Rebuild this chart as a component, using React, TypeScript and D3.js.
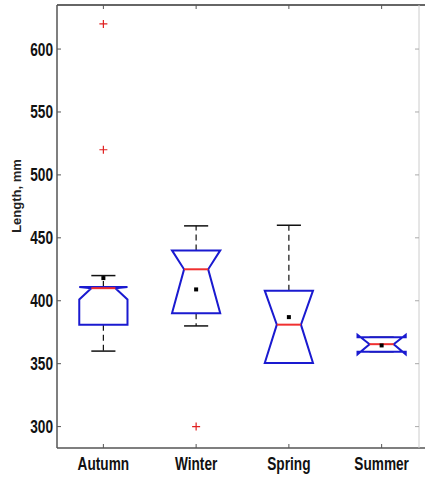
import React, { useRef, useEffect } from 'react';
import * as d3 from 'd3';

// box statistics per season (mm)
const seasons = ['Autumn', 'Winter', 'Spring', 'Summer'];
const lowerWhisker = [360, 380, 350.5, 359.5];
const lowerQuartile = [381, 390, 350.5, 359.5];
const medianValues = [410, 425, 381, 365.5];
const upperQuartile = [411, 440, 408, 371];
const upperWhisker = [420, 459.5, 460, 371];
const notchLow = [401, 390, 350.5, 357.5];
const notchHigh = [411, 440, 408, 373];
const meanValues = [418, 409, 387, 364.5];
const outlierValues = [[620, 520], [300], [], []];
const yTicks = [300, 350, 400, 450, 500, 550, 600];

const svgWidth = 425;
const svgHeight = 477;
const frame = { left: 57, right: 419, top: 5, bottom: 448 };
const font = 'Arial, "Liberation Sans", Helvetica, sans-serif';

const BoxPlot = () => {
  const svgRef = useRef(null);

  useEffect(() => {
    const svg = d3.select(svgRef.current);
    svg.selectAll('*').remove();

    const xScale = d3.scaleBand().domain(seasons).range([frame.left, 428]).padding(0);
    const yScale = d3.scaleLinear().domain([283, 635]).range([frame.bottom, frame.top]);
    const step = xScale.step();
    const boxW = step * 0.52;
    const cx = (s: string) => (xScale(s) as number) + xScale.bandwidth() / 2;

    svg.append('rect').attr('width', svgWidth).attr('height', svgHeight).attr('fill', '#fff');

    // frame
    svg
      .append('line')
      .attr('x1', frame.left)
      .attr('x2', svgWidth)
      .attr('y1', frame.top)
      .attr('y2', frame.top)
      .attr('stroke', '#666')
      .attr('stroke-width', 2);
    svg
      .append('line')
      .attr('x1', frame.left)
      .attr('x2', svgWidth)
      .attr('y1', frame.bottom)
      .attr('y2', frame.bottom)
      .attr('stroke', '#555')
      .attr('stroke-width', 1.5);
    svg
      .append('line')
      .attr('x1', frame.left)
      .attr('x2', frame.left)
      .attr('y1', frame.top)
      .attr('y2', frame.bottom)
      .attr('stroke', '#555')
      .attr('stroke-width', 1.5);
    svg
      .append('line')
      .attr('x1', frame.right)
      .attr('x2', frame.right)
      .attr('y1', frame.top)
      .attr('y2', frame.bottom)
      .attr('stroke', '#ccc')
      .attr('stroke-width', 1);

    // y ticks, both sides, pointing in
    const yAxis = svg.append('g');
    yTicks.forEach((t) => {
      const y = yScale(t);
      yAxis
        .append('line')
        .attr('x1', frame.left)
        .attr('x2', frame.left + 4)
        .attr('y1', y)
        .attr('y2', y)
        .attr('stroke', '#555');
      yAxis
        .append('line')
        .attr('x1', frame.right - 4)
        .attr('x2', frame.right)
        .attr('y1', y)
        .attr('y2', y)
        .attr('stroke', '#aaa');
      yAxis
        .append('text')
        .attr('transform', `translate(53, ${y}) scale(0.76, 1)`)
        .attr('dy', '0.36em')
        .attr('text-anchor', 'end')
        .attr('font-family', font)
        .attr('font-weight', 'bold')
        .attr('font-size', 18)
        .attr('fill', '#111')
        .text(t);
    });

    // x ticks and labels
    const xAxis = svg.append('g');
    seasons.forEach((s) => {
      const x = cx(s);
      xAxis
        .append('line')
        .attr('x1', x)
        .attr('x2', x)
        .attr('y1', frame.bottom)
        .attr('y2', frame.bottom - 4)
        .attr('stroke', '#555');
      xAxis
        .append('line')
        .attr('x1', x)
        .attr('x2', x)
        .attr('y1', frame.top)
        .attr('y2', frame.top + 4)
        .attr('stroke', '#555');
      xAxis
        .append('text')
        .attr('transform', `translate(${x}, 470) scale(0.78, 1)`)
        .attr('text-anchor', 'middle')
        .attr('font-family', font)
        .attr('font-weight', 'bold')
        .attr('font-size', 17.5)
        .attr('fill', '#111')
        .text(s);
    });

    svg
      .append('text')
      .attr('transform', 'translate(21, 196) rotate(-90)')
      .attr('text-anchor', 'middle')
      .attr('font-family', font)
      .attr('font-weight', 'bold')
      .attr('font-size', 13)
      .attr('fill', '#222')
      .text('Length, mm');

    // boxes
    const boxes = svg.append('g');
    seasons.forEach((s, i) => {
      const x = cx(s);
      const left = x - boxW / 2;
      const right = x + boxW / 2;
      const inset = boxW / 4;

      // whiskers
      const whiskers: [number, number][] = [
        [upperQuartile[i], upperWhisker[i]],
        [lowerQuartile[i], lowerWhisker[i]],
      ];
      whiskers.forEach(([from, to]) => {
        if (from !== to) {
          boxes
            .append('line')
            .attr('x1', x)
            .attr('x2', x)
            .attr('y1', yScale(from))
            .attr('y2', yScale(to))
            .attr('stroke', '#111')
            .attr('stroke-width', 1.2)
            .attr('stroke-dasharray', '6,4');
        }
        boxes
          .append('line')
          .attr('x1', x - boxW / 4)
          .attr('x2', x + boxW / 4)
          .attr('y1', yScale(to))
          .attr('y2', yScale(to))
          .attr('stroke', '#111')
          .attr('stroke-width', 1.5);
      });

      // notched box, drawn the way MATLAB does it
      const pts: [number, number][] = [
        [left, lowerQuartile[i]],
        [left, notchLow[i]],
        [left + inset, medianValues[i]],
        [left, notchHigh[i]],
        [left, upperQuartile[i]],
        [right, upperQuartile[i]],
        [right, notchHigh[i]],
        [right - inset, medianValues[i]],
        [right, notchLow[i]],
        [right, lowerQuartile[i]],
      ];
      const line = d3
        .line<[number, number]>()
        .x((d) => d[0])
        .y((d) => yScale(d[1]))
        .curve(d3.curveLinearClosed);
      boxes
        .append('path')
        .attr('d', line(pts))
        .attr('fill', 'none')
        .attr('stroke', '#1a1ad0')
        .attr('stroke-width', 2)
        .attr('stroke-linejoin', 'miter');

      boxes
        .append('line')
        .attr('x1', left + inset)
        .attr('x2', right - inset)
        .attr('y1', yScale(medianValues[i]))
        .attr('y2', yScale(medianValues[i]))
        .attr('stroke', '#f03030')
        .attr('stroke-width', 2);

      outlierValues[i].forEach((v) => {
        const y = yScale(v);
        boxes
          .append('path')
          .attr('d', `M${x - 4},${y}H${x + 4}M${x},${y - 4}V${y + 4}`)
          .attr('stroke', '#e02020')
          .attr('stroke-width', 1.2);
      });

      boxes
        .append('rect')
        .attr('x', x - 2)
        .attr('y', yScale(meanValues[i]) - 2)
        .attr('width', 4)
        .attr('height', 4)
        .attr('fill', '#000');
    });
  }, []);

  return (
    <svg
      ref={svgRef}
      width={svgWidth}
      height={svgHeight}
      style={{ position: 'absolute', left: 0, top: 0 }}
    />
  );
};

export default function App() {
  return <BoxPlot />;
}
